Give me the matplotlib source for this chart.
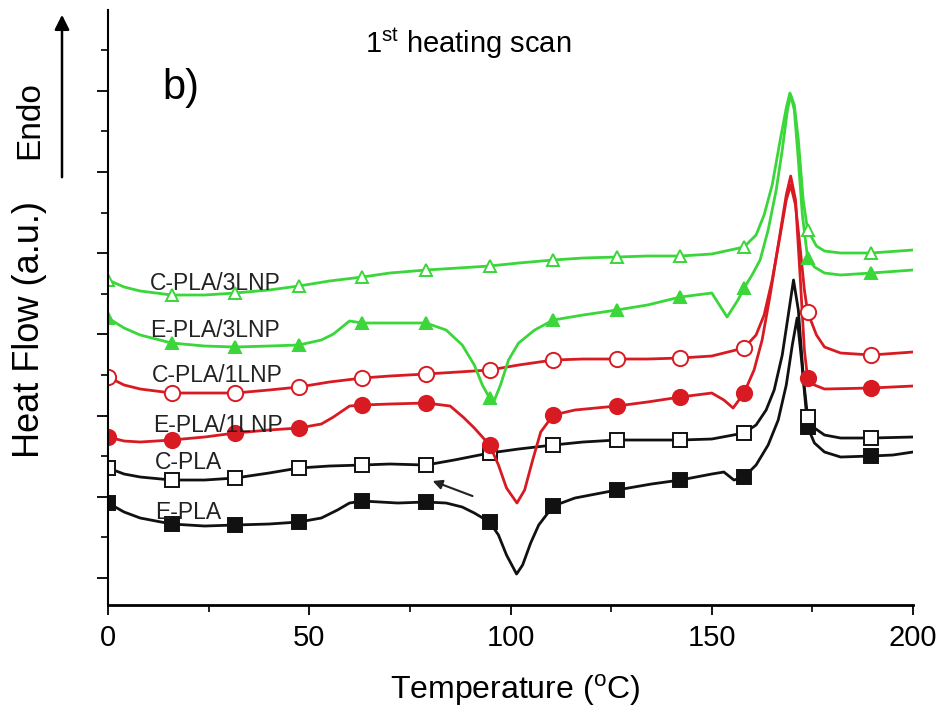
import numpy as np
import matplotlib
matplotlib.use("Agg")
import matplotlib.pyplot as plt

plt.rcParams['font.family'] = ['Liberation Sans', 'DejaVu Sans']

# ---------------- data (Temperature in °C, heat flow in a.u.) ----------------
MARK_T = [0, 15.8, 31.6, 47.4, 63.2, 79, 94.8, 110.6, 126.4, 142.2, 158, 173.8, 189.6]

T_epla = [0, 4, 8, 15.8, 24, 31.6, 40, 47.4, 53, 57, 60, 63.2, 67.6, 72, 79, 84, 88, 91, 94.8,
          97, 99, 101.5, 103, 105, 107, 110.6, 116, 126.4, 135, 142.2, 150, 153, 155.5, 158,
          161, 164, 166.5, 168.5, 170, 171.2, 172.3, 173.8, 175.5, 178, 182, 189.6, 195, 200]
Y_epla = [10.2, 9.3, 8.7, 8.1, 7.9, 8.0, 8.1, 8.3, 8.7, 9.5, 10.2, 10.4, 10.3, 10.2, 10.3, 10.2, 9.8, 9.2, 8.3,
          7.0, 5.0, 3.1, 4.0, 6.2, 8.0, 9.9, 10.7, 11.5, 12.1, 12.5, 13.1, 13.3, 12.5, 12.8,
          14.0, 16.0, 18.5, 22.0, 26.0, 28.7, 24.5, 17.8, 16.2, 15.3, 14.8, 14.9, 15.0, 15.3]

T_cpla = [0, 4, 8, 15.8, 24, 31.6, 40, 47.4, 55, 63.2, 70, 79, 86, 94.8, 102, 110.6, 118, 126.4,
          134, 142.2, 150, 158, 161, 163.5, 165.5, 167.5, 169, 170.3, 171.5, 172.8, 173.8, 175.5,
          178, 182, 189.6, 200]
Y_cpla = [13.7, 13.1, 12.8, 12.5, 12.5, 12.7, 13.2, 13.7, 13.9, 14.0, 14.1, 14.0, 14.5, 15.2, 15.6, 16.0, 16.3, 16.5,
          16.5, 16.5, 16.6, 17.2, 18.0, 19.5, 21.5, 25.0, 29.0, 32.5, 29.5, 22.5, 18.8, 17.7,
          17.0, 16.7, 16.7, 16.8]

T_epla1 = [0, 4, 8, 15.8, 24, 31.6, 40, 47.4, 53, 56, 60, 63.2, 70, 79, 85, 88.2, 91, 94.8, 97, 99,
           101.6, 103.5, 105.5, 107.5, 110.6, 116, 126.4, 134, 142.2, 150, 153, 155.3, 158, 160.5,
           162.5, 164.5, 166.5, 168.5, 169.6, 170.8, 172, 173, 173.8, 175.5, 178, 189.6, 200]
Y_epla1 = [16.8, 16.4, 16.3, 16.5, 16.8, 17.2, 17.5, 17.7, 18.1, 18.8, 19.9, 20.0, 20.1, 20.2, 19.9, 18.8, 17.7, 16.0, 14.0, 11.7,
           10.2, 11.5, 14.5, 17.3, 19.0, 19.5, 19.9, 20.3, 20.8, 21.2, 20.5, 19.7, 21.2, 23.5,
           26.5, 31.0, 36.0, 41.0, 42.9, 40.5, 32.5, 25.5, 22.7, 22.0, 21.6, 21.7, 21.9]

T_cpla1 = [0, 4, 8, 15.8, 24, 31.6, 40, 47.4, 55, 63.2, 70, 79, 87, 94.8, 102, 110.6, 118, 126.4,
           134, 142.2, 150, 158, 161, 163, 165, 167, 168.5, 169.6, 170.8, 172, 173, 173.8, 176,
           178, 182, 189.6, 200]
Y_cpla1 = [22.8, 22.0, 21.6, 21.2, 21.2, 21.2, 21.5, 21.8, 22.3, 22.7, 22.9, 23.1, 23.3, 23.5, 24.0, 24.5, 24.6, 24.6,
           24.6, 24.7, 24.9, 25.7, 27.0, 29.0, 32.5, 37.0, 40.5, 42.0, 40.0, 35.5, 31.5, 29.3, 27.0,
           25.8, 25.2, 25.0, 25.3]

T_epla3 = [0, 4, 8, 15.8, 24, 31.6, 40, 47.4, 53, 56, 60, 63.2, 70, 79, 84, 88, 91, 93, 94.8, 96,
           97.5, 99.5, 102, 106, 110.6, 118, 126.4, 134, 142.2, 150, 153.8, 156.5, 158, 160, 162,
           164, 166, 167.5, 168.8, 169.6, 170.5, 171.5, 172.5, 173.8, 175.5, 178, 182, 189.6, 200]
Y_epla3 = [28.7, 27.7, 27.0, 26.2, 25.9, 25.8, 25.9, 26.0, 26.5, 27.1, 28.4, 28.2, 28.2, 28.2, 27.5, 26.0, 24.0, 22.0, 20.7, 20.5,
           22.0, 24.5, 26.2, 27.5, 28.5, 29.0, 29.5, 30.0, 30.8, 31.2, 28.8, 30.5, 31.7, 33.0, 34.5,
           37.5, 41.5, 45.5, 49.5, 51.0, 49.5, 44.5, 39.0, 34.7, 33.8, 33.2, 33.0, 33.2, 33.5]

T_cpla3 = [0, 4, 8, 15.8, 24, 31.6, 40, 47.4, 55, 63.2, 70, 79, 87, 94.8, 102, 110.6, 118, 126.4,
           134, 142.2, 150, 158, 161, 163, 165, 167, 168.5, 169.4, 170.5, 171.5, 172.7, 173.8, 176,
           178, 182, 189.6, 200]
Y_cpla3 = [32.5, 31.8, 31.4, 31.0, 31.0, 31.2, 31.5, 31.9, 32.4, 32.8, 33.2, 33.5, 33.7, 33.9, 34.2, 34.5, 34.7, 34.8,
           34.9, 34.9, 35.1, 35.8, 37.0, 39.0, 42.0, 46.5, 49.7, 51.2, 50.0, 46.5, 40.5, 37.5, 35.9,
           35.4, 35.2, 35.2, 35.5]

labels = ["E-PLA", "C-PLA", "E-PLA/1LNP", "C-PLA/1LNP", "E-PLA/3LNP", "C-PLA/3LNP"]

BLACK = "#111111"
RED = "#d81b22"
GREEN = "#3ad63a"

series = [
    (T_epla, Y_epla, BLACK, 's', BLACK, 9.5),
    (T_cpla, Y_cpla, BLACK, 's', 'white', 9.5),
    (T_epla1, Y_epla1, RED, 'o', RED, 11),
    (T_cpla1, Y_cpla1, RED, 'o', 'white', 11),
    (T_epla3, Y_epla3, GREEN, '^', GREEN, 8.5),
    (T_cpla3, Y_cpla3, GREEN, '^', 'white', 8.5),
]

fig = plt.figure(figsize=(9.45, 7.2), dpi=100)
ax = fig.add_axes([0.1143, 0.1597, 0.8519, 0.8264])

for T, Y, col, mk, fc, ms in series:
    T = np.asarray(T, float)
    mask = np.isin(np.round(T, 1), np.round(MARK_T, 1))
    ax.plot(T, Y, color=col, lw=2.0, marker=mk, markevery=list(np.where(mask)[0]),
            markersize=ms, markerfacecolor=fc, markeredgecolor=col, markeredgewidth=1.4)

ax.set_xlim(0, 200)
ax.set_ylim(0, 59.5)

ax.spines['top'].set_visible(False)
ax.spines['right'].set_visible(False)
ax.spines['left'].set_linewidth(1.5)
ax.spines['bottom'].set_linewidth(2.0)

ax.set_xticks([0, 50, 100, 150, 200])
ax.set_xticks([25, 75, 125, 175], minor=True)
ax.set_xticklabels(['0', '50', '100', '150', '200'], fontsize=21)
ytick_major = np.arange(2.7, 59, 8.12)
ytick_minor = np.arange(6.76, 59, 8.12)
ax.set_yticks(ytick_major)
ax.set_yticks(ytick_minor, minor=True)
ax.set_yticklabels([])
ax.tick_params(axis='x', which='major', direction='out', length=7, width=1.3, pad=7)
ax.tick_params(axis='x', which='minor', direction='out', length=5, width=1.2)
ax.tick_params(axis='y', which='major', direction='out', length=8, width=1.3)
ax.tick_params(axis='y', which='minor', direction='out', length=5, width=1.2)

# curve labels
lab_pos = {
    "C-PLA/3LNP": (10.4, 32.2),
    "E-PLA/3LNP": (10.4, 27.5),
    "C-PLA/1LNP": (11.0, 23.0),
    "E-PLA/1LNP": (11.3, 18.0),
    "C-PLA": (11.7, 14.3),
    "E-PLA": (11.7, 9.3),
}
for name in labels:
    x, y = lab_pos[name]
    ax.text(x, y, name, fontsize=16.5, color='#222222', ha='left', va='center')

ax.text(13.4, 51.7, "b)", fontsize=30, ha='left', va='center')

# arrow near C-PLA cold crystallisation
ax.annotate("", xy=(80.0, 12.5), xytext=(91.2, 10.8),
            arrowprops=dict(arrowstyle='-|>', color='#222222', lw=1.5, mutation_scale=14))

fig.text(365 / 945, 1 - 43 / 720, r"1$^{\mathregular{st}}$ heating scan", fontsize=21,
         ha='left', va='center')
fig.text(515 / 945, 1 - 690 / 720, "Temperature ($^{\\mathregular{o}}$C)", fontsize=23,
         ha='center', va='center')
fig.text(30 / 945, 1 - 330 / 720, "Heat Flow (a.u.)", fontsize=26, rotation=90,
         ha='center', va='center')
fig.text(30 / 945, 1 - 120 / 720, "Endo", fontsize=24, rotation=90, ha='center', va='center')
fig.patches.append(matplotlib.patches.FancyArrowPatch(
    (62 / 945, 1 - 180 / 720), (62 / 945, 1 - 12 / 720), transform=fig.transFigure,
    arrowstyle='-|>', mutation_scale=22, color='black', lw=1.8))

fig.savefig("out.png", dpi=100)
